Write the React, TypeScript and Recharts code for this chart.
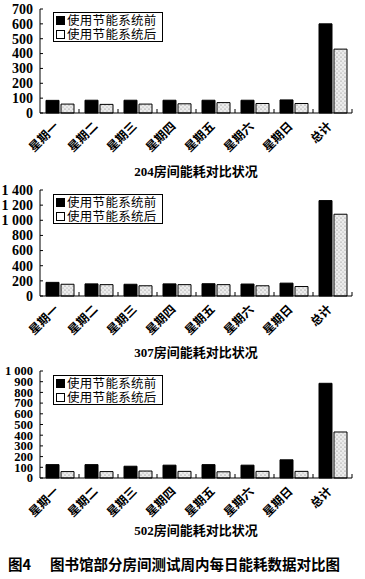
import React from 'react';
import { BarChart, Bar, XAxis, YAxis } from 'recharts';

const categories = ['星期一', '星期二', '星期三', '星期四', '星期五', '星期六', '星期日', '总计'];
const seriesNames = ['使用节能系统前', '使用节能系统后'];

const room204Before = [85, 86, 86, 86, 86, 86, 88, 600];
const room204After = [60, 58, 60, 62, 70, 64, 64, 430];
const room307Before = [180, 160, 155, 160, 162, 158, 170, 1260];
const room307After = [155, 150, 135, 150, 150, 135, 125, 1080];
const room502Before = [125, 125, 110, 120, 125, 120, 170, 885];
const room502After = [60, 60, 65, 62, 58, 62, 62, 430];

const ticks204 = [0, 100, 200, 300, 400, 500, 600, 700];
const ticks307 = [0, 200, 400, 600, 800, 1000, 1200, 1400];
const ticks502 = [0, 100, 200, 300, 400, 500, 600, 700, 800, 900, 1000];

const titles = ['204房间能耗对比状况', '307房间能耗对比状况', '502房间能耗对比状况'];
const captionNo = '图4';
const captionText = '图书馆部分房间测试周内每日能耗数据对比图';

const fmt = (v: number) =>
  v >= 1000 ? `${Math.floor(v / 1000)} ${String(v % 1000).padStart(3, '0')}` : String(v);

const makeYTick = (fontSize: number) => (props: any) => {
  const { x, y, payload } = props;
  return (
    <g>
      <line x1={x + 6} x2={x + 9} y1={y} y2={y} stroke="#000" strokeWidth={1} />
      <text
        x={x - 1}
        y={y}
        dy="0.35em"
        textAnchor="end"
        fontFamily="'Liberation Serif', serif"
        fontWeight="bold"
        fontSize={fontSize}
        fill="#000"
      >
        {fmt(payload.value)}
      </text>
    </g>
  );
};

const XTick = (props: any) => {
  const { x, y, payload } = props;
  const off = payload && payload.offset ? payload.offset : 0;
  return (
    <g>
      <line x1={x + off} x2={x + off} y1={y} y2={y - 4} stroke="#000" strokeWidth={1} />
      <text
        transform={`translate(${x - 3},${y + 11}) rotate(-45)`}
        textAnchor="end"
        dy="0.35em"
        fontFamily="'Noto Sans CJK SC', sans-serif"
        fontWeight="bold"
        fontSize={12}
        fill="#000"
      >
        {payload.value}
      </text>
    </g>
  );
};

const Legend = ({ top }: { top: number }) => (
  <div
    style={{
      position: 'absolute',
      left: 53,
      top,
      width: 108,
      height: 28,
      border: '1px solid #000',
      background: '#fff',
      fontFamily: "'Noto Sans CJK SC', sans-serif",
      fontSize: 12.5,
      lineHeight: '14px',
      color: '#000',
    }}
  >
    {seriesNames.map((n, i) => (
      <div
        key={n}
        style={{ display: 'flex', alignItems: 'center', paddingLeft: 2, height: 14, overflow: 'visible' }}
      >
        <span
          style={{
            display: 'inline-block',
            width: 7,
            height: 7,
            marginRight: 2,
            border: '1px solid #000',
            background: i === 0 ? '#000' : '#fff',
          }}
        />
        <span
          style={{
            display: 'inline-block',
            height: 14,
            lineHeight: '14px',
            overflow: 'visible',
            letterSpacing: 0.3,
          }}
        >
          {n}
        </span>
      </div>
    ))}
  </div>
);

type RoomProps = {
  top: number;
  height: number;
  before: number[];
  after: number[];
  ticks: number[];
  title: string;
  titleTop: number;
  legendTop: number;
  tickFont: number;
};

const RoomChart = ({ top, height, before, after, ticks, title, titleTop, legendTop, tickFont }: RoomProps) => {
  const data = categories.map((c, i) => ({ name: c, before: before[i], after: after[i] }));
  const YTick = makeYTick(tickFont);
  return (
    <>
      <div style={{ position: 'absolute', left: 0, top }}>
        <BarChart
          width={365}
          height={height}
          data={data}
          margin={{ top: 9, right: 13, left: 0, bottom: 0 }}
          barGap={2}
        >
          <XAxis
            dataKey="name"
            interval={0}
            height={50}
            tickLine={false}
            tickSize={0}
            tickMargin={0}
            axisLine={{ stroke: '#000', strokeWidth: 1 }}
            tick={<XTick />}
          />
          <YAxis
            width={40}
            domain={[0, ticks[ticks.length - 1]]}
            ticks={ticks}
            interval={0}
            tickLine={false}
            tickSize={0}
            tickMargin={6}
            axisLine={{ stroke: '#000', strokeWidth: 1 }}
            tick={<YTick />}
          />
          <Bar
            dataKey="before"
            name={seriesNames[0]}
            fill="#000"
            stroke="#000"
            strokeWidth={1}
            barSize={13}
            isAnimationActive={false}
          />
          <Bar
            dataKey="after"
            name={seriesNames[1]}
            fill="url(#stipple)"
            stroke="#000"
            strokeWidth={1}
            barSize={13}
            isAnimationActive={false}
          />
        </BarChart>
      </div>
      <Legend top={legendTop} />
      <div
        style={{
          position: 'absolute',
          left: 40,
          width: 312,
          top: titleTop,
          textAlign: 'center',
          fontFamily: "'Liberation Serif', 'Noto Sans CJK SC', serif",
          fontWeight: 'bold',
          fontSize: 13,
          lineHeight: '18px',
          color: '#000',
        }}
      >
        {title}
      </div>
    </>
  );
};

export default function App() {
  return (
    <div
      style={{
        position: 'absolute',
        left: 0,
        top: 0,
        width: 365,
        height: 579,
        background: '#fff',
        overflow: 'hidden',
      }}
    >
      <svg width={0} height={0} style={{ position: 'absolute' }}>
        <defs>
          <pattern id="stipple" width={4} height={4} patternUnits="userSpaceOnUse">
            <rect width={4} height={4} fill="#ececec" />
            <circle cx={1} cy={1} r={0.6} fill="#777" />
            <circle cx={3} cy={3} r={0.6} fill="#999" />
          </pattern>
        </defs>
      </svg>
      <RoomChart
        top={0}
        height={163}
        before={room204Before}
        after={room204After}
        ticks={ticks204}
        title={titles[0]}
        titleTop={163}
        legendTop={12}
        tickFont={14}
      />
      <RoomChart
        top={181}
        height={165}
        before={room307Before}
        after={room307After}
        ticks={ticks307}
        title={titles[1]}
        titleTop={344}
        legendTop={194}
        tickFont={14}
      />
      <RoomChart
        top={362}
        height={166}
        before={room502Before}
        after={room502After}
        ticks={ticks502}
        title={titles[2]}
        titleTop={522}
        legendTop={375}
        tickFont={12.5}
      />
      <div
        style={{
          position: 'absolute',
          left: 8,
          top: 554,
          width: 350,
          height: 20,
          fontFamily: "'Noto Sans CJK SC', sans-serif",
          fontWeight: 'bold',
          fontSize: 14.5,
          lineHeight: '20px',
          color: '#000',
          whiteSpace: 'nowrap',
        }}
      >
        <span>{captionNo}</span>
        <span style={{ position: 'absolute', left: 42 }}>{captionText}</span>
      </div>
    </div>
  );
}
